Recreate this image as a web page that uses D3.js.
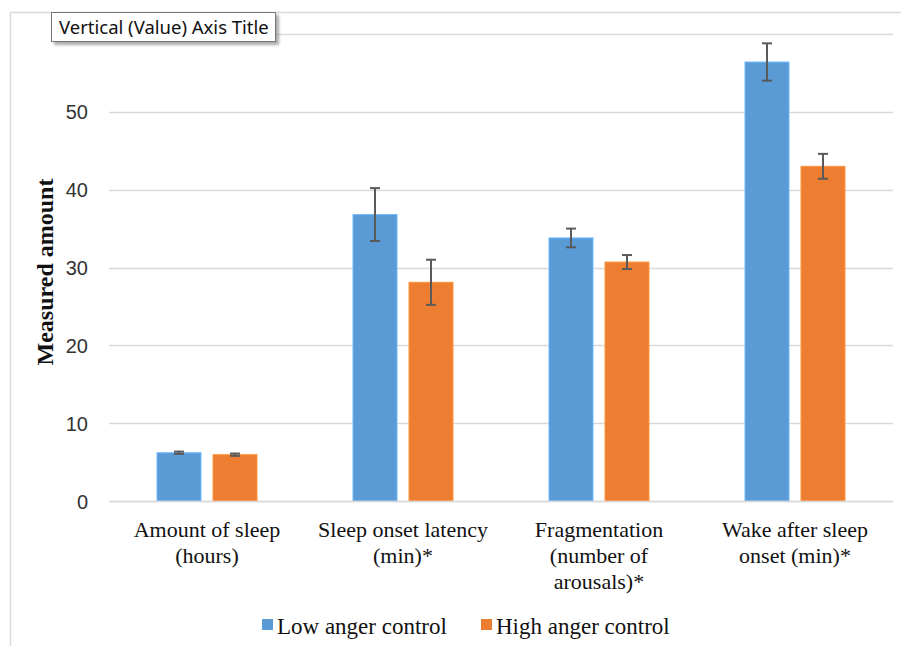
<!DOCTYPE html>
<html><head><meta charset="utf-8">
<script src="https://cdn.jsdelivr.net/npm/d3@7"></script>
<style>body{margin:0;background:#fff}svg{display:block}</style>
</head><body>
<svg id="c" width="901" height="646"></svg>
<script>
const categories = [["Amount of sleep","(hours)"],["Sleep onset latency","(min)*"],["Fragmentation","(number of","arousals)*"],["Wake after sleep","onset (min)*"]];
const seriesNames = ["Low anger control","High anger control"];
const lowValues = [6.2, 36.8, 33.8, 56.4];
const lowErrors = [0.15, 3.4, 1.2, 2.4];
const highValues = [5.95, 28.1, 30.7, 43.0];
const highErrors = [0.15, 2.9, 0.9, 1.6];
const yTicks = [0,10,20,30,40,50];
const colors = ["#5B9BD5","#ED7D31"];

const svg = d3.select("#c");
const W=901,H=646;
svg.append("line").attr("x1",10.5).attr("x2",W).attr("y1",12.5).attr("y2",12.5).attr("stroke","#d9d9d9").attr("stroke-width",1.5);
svg.append("line").attr("x1",10.5).attr("x2",10.5).attr("y1",12).attr("y2",H).attr("stroke","#d9d9d9").attr("stroke-width",1.5);

const x0 = d3.scaleBand().domain(d3.range(4)).range([109,893]);
const x1 = d3.scaleBand().domain([0,1]).range([48,148]).paddingInner(12/56);
const y = d3.scaleLinear().domain([0,60]).range([501,34]);

const grid = svg.append("g");
grid.selectAll("line").data(d3.range(0,70,10)).join("line")
  .attr("x1",109).attr("x2",893).attr("y1",d=>Math.round(y(d))+0.5).attr("y2",d=>Math.round(y(d))+0.5)
  .attr("stroke","#d9d9d9").attr("stroke-width",1.5);

const yAxis = d3.axisLeft(y).tickValues(yTicks).tickSize(0).tickPadding(0).tickFormat(d3.format("d"));
const ya = svg.append("g").attr("transform","translate(88,0)").call(yAxis);
ya.select(".domain").remove();
ya.selectAll("text").attr("font-family","'Liberation Sans', sans-serif").attr("font-size",20).attr("fill","#333").attr("dy","0.35em");

svg.append("text").attr("transform","translate(53,272) rotate(-90)").attr("text-anchor","middle")
  .attr("font-family","'Liberation Serif', serif").attr("font-weight","bold").attr("font-size",24).attr("fill","#111").text("Measured amount");

const series = [
  {vals:lowValues, errs:lowErrors},
  {vals:highValues, errs:highErrors}
];
series.forEach((s,si)=>{
  const g = svg.append("g");
  g.selectAll("rect").data(s.vals).join("rect")
    .attr("x",(d,i)=>x0(i)+x1(si)).attr("width",x1.bandwidth())
    .attr("y",d=>y(d)).attr("height",d=>y(0)-y(d))
    .attr("fill",colors[si]).attr("stroke",d3.color(colors[si]).brighter(0.5)).attr("stroke-width",1);
  const e = svg.append("g").attr("stroke","#5a5a5a").attr("stroke-width",2);
  s.vals.forEach((v,i)=>{
    const cx = x0(i)+x1(si)+x1.bandwidth()/2;
    const t=y(v+s.errs[i]), b=y(v-s.errs[i]);
    e.append("line").attr("x1",cx).attr("x2",cx).attr("y1",t).attr("y2",b);
    e.append("line").attr("x1",cx-5).attr("x2",cx+5).attr("y1",t).attr("y2",t);
    e.append("line").attr("x1",cx-5).attr("x2",cx+5).attr("y1",b).attr("y2",b);
  });
});

svg.append("line").attr("x1",109).attr("x2",893).attr("y1",Math.round(y(0))+0.5).attr("y2",Math.round(y(0))+0.5).attr("stroke","#d9d9d9").attr("stroke-width",1.5);

const xl = svg.append("g").attr("font-family","'Liberation Serif', serif").attr("font-size",22).attr("fill","#111").attr("text-anchor","middle");
categories.forEach((lines,i)=>{
  const cx = x0(i)+x0.bandwidth()/2;
  const t = xl.append("text").attr("x",cx).attr("y",537);
  lines.forEach((l,j)=>t.append("tspan").attr("x",cx).attr("dy",j?26:0).text(l));
});

const leg = svg.append("g").attr("font-family","'Liberation Serif', serif").attr("font-size",23).attr("fill","#111");
const legX=[262,481];
seriesNames.forEach((n,i)=>{
  leg.append("rect").attr("x",legX[i]).attr("y",619).attr("width",11).attr("height",11).attr("fill",colors[i]);
  leg.append("text").attr("x",legX[i]+15).attr("y",634).text(n);
});

const defs = svg.append("defs");
defs.append("filter").attr("id","blur").append("feGaussianBlur").attr("stdDeviation",1.5);
svg.append("rect").attr("x",54).attr("y",15).attr("width",225).attr("height",30).attr("fill","#888").attr("opacity",0.7).attr("filter","url(#blur)");
svg.append("rect").attr("x",51.5).attr("y",12.5).attr("width",224).attr("height",29).attr("fill","#fff").attr("stroke","#777").attr("stroke-width",1);
svg.append("text").attr("x",59).attr("y",34).attr("font-family","'Noto Sans', sans-serif").attr("font-size",18.5).attr("fill","#111").text("Vertical (Value) Axis Title");
</script>
</body></html>
